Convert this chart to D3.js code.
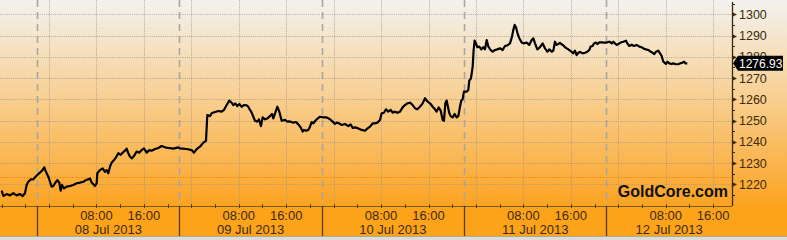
<!DOCTYPE html>
<html><head><meta charset="utf-8">
<script src="https://cdn.jsdelivr.net/npm/d3@7/dist/d3.min.js"></script>
<style>html,body{margin:0;padding:0;background:#fff}svg{display:block}</style>
</head><body><svg id="c" width="787" height="240"></svg>
<script>
// ---- data: [hours since 08 Jul 2013 00:00, gold price USD/oz] ----
const session07to08 = [[-7.98,1217.0],[-7.70,1214.5],[-7.14,1215.4],[-6.58,1214.8],[-6.02,1215.8],[-5.45,1214.8],[-4.89,1215.4],[-4.44,1214.5],[-4.05,1215.8],[-3.77,1219.7],[-3.49,1221.2],[-3.09,1222.3],[-2.64,1222.3],[-2.36,1223.3],[-1.97,1224.4],[-1.52,1225.5],[-1.07,1226.7],[-0.79,1228.0],[-0.51,1225.9],[-0.11,1223.6],[0.17,1221.2],[0.45,1218.9],[0.73,1219.2],[1.01,1220.5],[1.40,1222.0],[1.74,1220.8],[1.97,1217.0],[2.19,1219.7],[2.53,1218.1],[2.98,1218.9],[3.54,1219.2],[4.10,1219.7],[4.67,1220.5],[5.23,1220.8],[5.79,1221.2],[6.24,1222.0],[6.63,1222.3],[6.91,1222.8],[7.20,1220.8],[7.76,1219.2],[8.04,1220.5],[8.15,1225.2],[8.60,1226.7],[9.05,1227.5],[9.44,1225.9],[9.72,1226.7],[10.0,1225.2],[10.29,1228.3],[10.57,1230.2],[10.96,1231.4],[11.30,1232.7],[11.69,1234.6],[12.09,1233.9],[12.42,1234.9],[12.82,1235.8],[13.10,1236.8],[13.38,1234.6],[13.66,1233.0],[14.00,1232.2],[14.33,1233.3],[14.78,1235.4],[15.23,1234.9],[15.63,1236.1],[16.02,1236.9],[16.47,1234.9],[16.92,1236.1],[17.31,1235.8],[17.88,1236.6],[18.44,1237.1],[19.0,1238.0],[19.56,1237.4],[20.12,1237.1],[20.96,1236.8],[21.81,1237.4]];
const session09 = [[22.09,1236.9],[23.22,1236.6],[24.06,1236.1],[24.45,1234.9],[24.90,1236.5],[25.46,1237.7],[26.03,1239.6],[26.48,1240.5],[26.70,1252.6],[27.15,1252.1],[27.43,1253.4],[27.99,1254.0],[28.56,1254.5],[29.12,1254.2],[29.51,1255.0],[29.96,1257.3],[30.41,1259.4],[30.80,1258.4],[31.08,1257.3],[31.42,1258.1],[31.76,1256.8],[32.10,1257.8],[32.49,1256.5],[32.88,1257.3],[33.33,1257.2],[33.61,1256.5],[33.90,1255.0],[34.18,1253.7],[34.46,1251.8],[34.74,1249.9],[35.13,1249.5],[35.41,1250.6],[35.75,1247.4],[36.03,1251.5],[36.43,1250.6],[36.82,1251.0],[37.27,1252.1],[37.61,1253.1],[37.83,1251.0],[38.17,1253.7],[38.50,1256.5],[38.84,1254.2],[39.24,1249.9],[39.80,1250.3],[40.19,1249.5],[40.64,1249.6],[41.20,1249.0],[41.65,1249.3],[42.05,1248.2],[42.44,1246.8],[42.78,1244.8],[43.0,1245.6],[43.34,1245.2],[43.73,1245.6],[44.01,1247.1],[44.30,1249.3],[44.58,1248.7],[45.14,1250.6],[45.70,1251.8]];
const session10 = [[46.26,1251.5],[46.82,1251.5],[47.39,1250.6],[47.84,1249.5],[48.23,1248.4],[48.51,1249.0],[48.96,1248.7],[49.35,1247.9],[49.92,1248.4],[50.48,1247.4],[50.87,1248.2],[51.21,1246.5],[51.60,1246.8],[52.16,1246.3],[52.73,1245.6],[53.29,1245.2],[53.68,1246.2],[54.13,1247.1],[54.58,1248.7],[54.97,1248.7],[55.37,1249.0],[55.82,1250.3],[56.10,1253.4],[56.49,1253.7],[56.83,1255.3],[57.22,1254.2],[57.62,1255.0],[57.95,1253.7],[58.35,1254.2],[58.74,1253.7],[59.19,1254.2],[59.64,1256.2],[60.03,1257.3],[60.43,1258.1],[60.88,1258.4],[61.33,1257.3],[61.72,1255.8],[62.11,1255.3],[62.56,1256.5],[63.01,1258.1],[63.41,1260.5],[63.69,1259.4],[64.08,1258.4],[64.36,1257.8],[64.70,1256.5],[65.09,1255.3],[65.37,1254.2],[65.71,1256.2],[66.05,1254.7],[66.39,1250.3],[66.61,1249.9],[66.84,1258.1],[67.06,1259.4],[67.28,1256.5],[67.51,1253.4],[67.73,1252.1],[68.07,1251.5],[68.41,1253.1],[68.75,1251.5],[69.03,1252.1],[69.31,1256.5],[69.53,1259.4],[69.76,1260.0]];
const session11 = [[69.98,1263.6],[70.43,1263.6],[70.71,1264.4],[70.88,1268.8],[71.16,1269.9],[71.45,1275.4],[71.61,1283.2],[71.78,1287.6],[72.01,1286.3],[72.23,1284.5],[72.57,1284.8],[72.91,1283.5],[73.24,1284.5],[73.52,1283.5],[73.81,1287.9],[74.09,1284.8],[74.48,1283.2],[74.82,1282.4],[75.21,1283.2],[75.60,1283.5],[76.05,1284.0],[76.50,1283.2],[76.90,1285.1],[77.29,1285.4],[77.74,1286.3],[78.08,1289.5],[78.30,1292.6],[78.53,1295.0],[78.75,1293.9],[78.98,1291.4],[79.31,1288.7],[79.71,1286.7],[80.10,1286.3],[80.55,1286.7],[81.0,1285.6],[81.39,1287.9],[81.68,1288.7],[81.96,1286.3],[82.35,1283.5],[82.80,1284.5],[83.25,1286.3],[83.64,1284.0],[84.04,1282.4],[84.37,1283.5],[84.77,1282.4],[85.05,1282.9],[85.33,1287.1],[85.61,1285.6],[86.17,1286.5],[86.45,1285.9],[86.73,1285.4],[87.02,1284.5],[87.30,1284.0],[87.58,1283.5],[87.86,1282.9],[88.14,1282.4],[88.42,1281.6],[88.70,1282.9],[88.98,1280.8],[89.26,1281.9],[89.54,1282.3],[90.0,1281.6],[90.39,1281.9],[90.78,1282.4],[91.12,1283.2],[91.34,1284.8],[91.68,1285.1],[91.91,1286.3],[92.24,1286.7],[92.47,1286.0],[92.81,1286.8],[93.2,1286.8],[93.59,1286.7]];
const session12 = [[94.04,1286.7],[94.32,1287.0],[94.60,1287.0],[94.89,1286.3],[95.17,1287.1],[95.45,1286.3],[95.73,1285.6],[96.01,1286.0],[96.40,1286.7],[96.85,1287.1],[97.30,1287.6],[97.53,1286.3],[97.86,1285.1],[98.26,1285.7],[98.65,1285.1],[99.10,1285.6],[99.55,1284.8],[99.94,1284.5],[100.34,1283.8],[100.67,1283.5],[101.07,1283.2],[101.46,1282.4],[101.80,1281.9],[102.08,1281.3],[102.36,1282.4],[102.75,1282.9],[103.04,1281.6],[103.32,1280.4],[103.60,1277.7],[104.05,1276.6],[104.27,1277.7],[104.61,1276.9],[105.0,1276.6],[105.28,1276.9],[105.73,1276.5],[106.13,1276.5],[106.41,1276.9],[106.80,1277.2],[107.08,1277.7],[107.36,1276.9],[107.64,1276.93]];

const yTicks = [1220,1230,1240,1250,1260,1270,1280,1290,1300];
const sessionBreakHours = [-2,22,46,70,94];
const dayLabels = ["08 Jul 2013","09 Jul 2013","10 Jul 2013","11 Jul 2013","12 Jul 2013"];
const referenceLevel = 1223.3;
const lastValue = 1276.93;
const watermark = "GoldCore.com";
const domainHours = [-8.26, 115.18];
const priceDomain = [1209.79, 1306.73];

// ---- drawing ----
const base = Date.UTC(2013,6,8,0,0);
const T = h => new Date(base + h*3600e3);
const series = [].concat(session07to08, session09, session10, session11, session12).map(d => ({t:T(d[0]), v:d[1]}));

const W = 787, H = 240, plotR = 732, plotB = 206, bandB = 236;
const svg = d3.select("#c");
const x = d3.scaleUtc().domain(domainHours.map(T)).range([0, plotR]);
const y = d3.scaleLinear().domain(priceDomain).range([plotB, 0]);

const defs = svg.append("defs");
const g = defs.append("linearGradient").attr("id","bg").attr("x1",0).attr("y1",0).attr("x2",0).attr("y2",1);
g.append("stop").attr("offset","0%").attr("stop-color","#f3f2f0");
g.append("stop").attr("offset","50%").attr("stop-color","#f8cd8c");
g.append("stop").attr("offset","100%").attr("stop-color","#fca321");

svg.append("rect").attr("width",W).attr("height",plotB).attr("fill","url(#bg)");
svg.append("rect").attr("y",plotB).attr("width",W).attr("height",bandB-plotB).attr("fill","#fca31a");
svg.append("rect").attr("y",bandB).attr("width",W).attr("height",H-bandB).attr("fill","#dcdcdc");
svg.append("line").attr("x1",0).attr("x2",W).attr("y1",bandB+0.5).attr("y2",bandB+0.5).attr("stroke","#b8a88a");

// horizontal grid
svg.append("g").selectAll("line").data(yTicks).join("line")
  .attr("x1",0).attr("x2",plotR).attr("y1",d=>Math.round(y(d))+0.5).attr("y2",d=>Math.round(y(d))+0.5)
  .attr("stroke","#9c948a").attr("stroke-opacity",0.75).attr("stroke-dasharray","1,1.2");

// vertical grid every 8h
const gridTimes = d3.utcHour.every(8).range(T(0), T(domainHours[1]));
svg.append("g").selectAll("line").data(gridTimes).join("line")
  .attr("x1",d=>Math.round(x(d))+0.5).attr("x2",d=>Math.round(x(d))+0.5).attr("y1",0).attr("y2",plotB)
  .attr("stroke","#9c948a").attr("stroke-opacity",0.75).attr("stroke-dasharray","1,1.2");

// reference level (orange dotted)
svg.append("line").attr("x1",0).attr("x2",plotR).attr("y1",Math.round(y(referenceLevel))+0.5).attr("y2",Math.round(y(referenceLevel))+0.5)
  .attr("stroke","#e8860a").attr("stroke-dasharray","1.5,1.5").attr("stroke-width",1);

// session separators (dashed)
svg.append("g").selectAll("line").data(sessionBreakHours).join("line")
  .attr("x1",d=>Math.round(x(T(d)))+0.5).attr("x2",d=>Math.round(x(T(d)))+0.5).attr("y1",0).attr("y2",plotB)
  .attr("stroke","#a9a6a2").attr("stroke-width",1.6).attr("stroke-dasharray","7,5");

// watermark
svg.append("text").attr("x",728).attr("y",197).attr("text-anchor","end")
  .attr("font-family","Liberation Sans, Arial, sans-serif").attr("font-weight","bold").attr("font-size",16)
  .attr("fill","#111").text(watermark);

// price line
svg.append("path").datum(series)
  .attr("d", d3.line().x(d=>x(d.t)).y(d=>y(d.v)))
  .attr("fill","none").attr("stroke","#000").attr("stroke-width",2.2).attr("stroke-linejoin","round");

// x axis band
svg.append("line").attr("x1",0).attr("x2",plotR).attr("y1",plotB+0.5).attr("y2",plotB+0.5).attr("stroke","#7a5a20").attr("stroke-width",1);
const minorX = d3.utcHour.every(4).range(T(-8), T(domainHours[1]));
svg.append("g").selectAll("line").data(minorX).join("line")
  .attr("x1",d=>Math.round(x(d))+0.5).attr("x2",d=>Math.round(x(d))+0.5).attr("y1",plotB-2).attr("y2",plotB+2)
  .attr("stroke","#5a4015");
svg.append("g").selectAll("line").data(sessionBreakHours).join("line")
  .attr("x1",d=>Math.round(x(T(d)))+0.5).attr("x2",d=>Math.round(x(T(d)))+0.5).attr("y1",plotB).attr("y2",bandB)
  .attr("stroke","#5a3c0a").attr("stroke-width",1.3);

const font = "Liberation Sans, Arial, sans-serif";
const labelTimes = gridTimes.filter(d => d.getUTCHours() !== 0);
svg.append("g").selectAll("text").data(labelTimes).join("text")
  .attr("x",d=>x(d)).attr("y",220).attr("text-anchor","middle")
  .attr("font-family",font).attr("font-size",13).attr("fill","#3d2a0c")
  .text(d3.utcFormat("%H:%M"));
svg.append("g").selectAll("text").data(dayLabels).join("text")
  .attr("x",(d,i)=>{ const a=x(T(sessionBreakHours[i])); const b = i+1<sessionBreakHours.length ? x(T(sessionBreakHours[i+1])) : plotR; return (a+b)/2; })
  .attr("y",234).attr("text-anchor","middle")
  .attr("font-family",font).attr("font-size",13).attr("fill","#3d2a0c").text(d=>d);

// y axis (right)
svg.append("line").attr("x1",plotR+0.5).attr("x2",plotR+0.5).attr("y1",2).attr("y2",plotB)
  .attr("stroke","#3a2a10").attr("stroke-width",1.3);
const minorY = d3.range(priceDomain[0], priceDomain[1], 1).map(Math.ceil).filter((v,i,a)=>v%5===0 && v%10!==0 && a.indexOf(v)===i);
svg.append("g").selectAll("line").data(minorY).join("line")
  .attr("x1",plotR).attr("x2",plotR+3).attr("y1",d=>Math.round(y(d))+0.5).attr("y2",d=>Math.round(y(d))+0.5)
  .attr("stroke","#3a2a10");
svg.append("g").selectAll("path").data(yTicks).join("path")
  .attr("d",d=>{const yy=Math.round(y(d))+0.5; return `M${plotR},${yy-2.5}L${plotR+5},${yy}L${plotR},${yy+2.5}Z`;})
  .attr("fill","#3a2a10");
svg.append("g").selectAll("text").data(yTicks).join("text")
  .attr("x",plotR+7).attr("y",d=>y(d)+4.5)
  .attr("font-family",font).attr("font-size",12.5).attr("fill","#3d2a0c").text(d=>d);

// last value tag
const ly = y(lastValue);
svg.append("path").attr("d",`M${plotR+1},${ly}L${plotR+6},${ly-7.5}L${W-4},${ly-7.5}L${W-4},${ly+7.5}L${plotR+6},${ly+7.5}Z`).attr("fill","#000");
svg.append("text").attr("x",plotR+7).attr("y",ly+4.5).attr("font-family",font).attr("font-size",12)
  .attr("fill","#fff").text(lastValue.toFixed(2));
</script></body></html>
